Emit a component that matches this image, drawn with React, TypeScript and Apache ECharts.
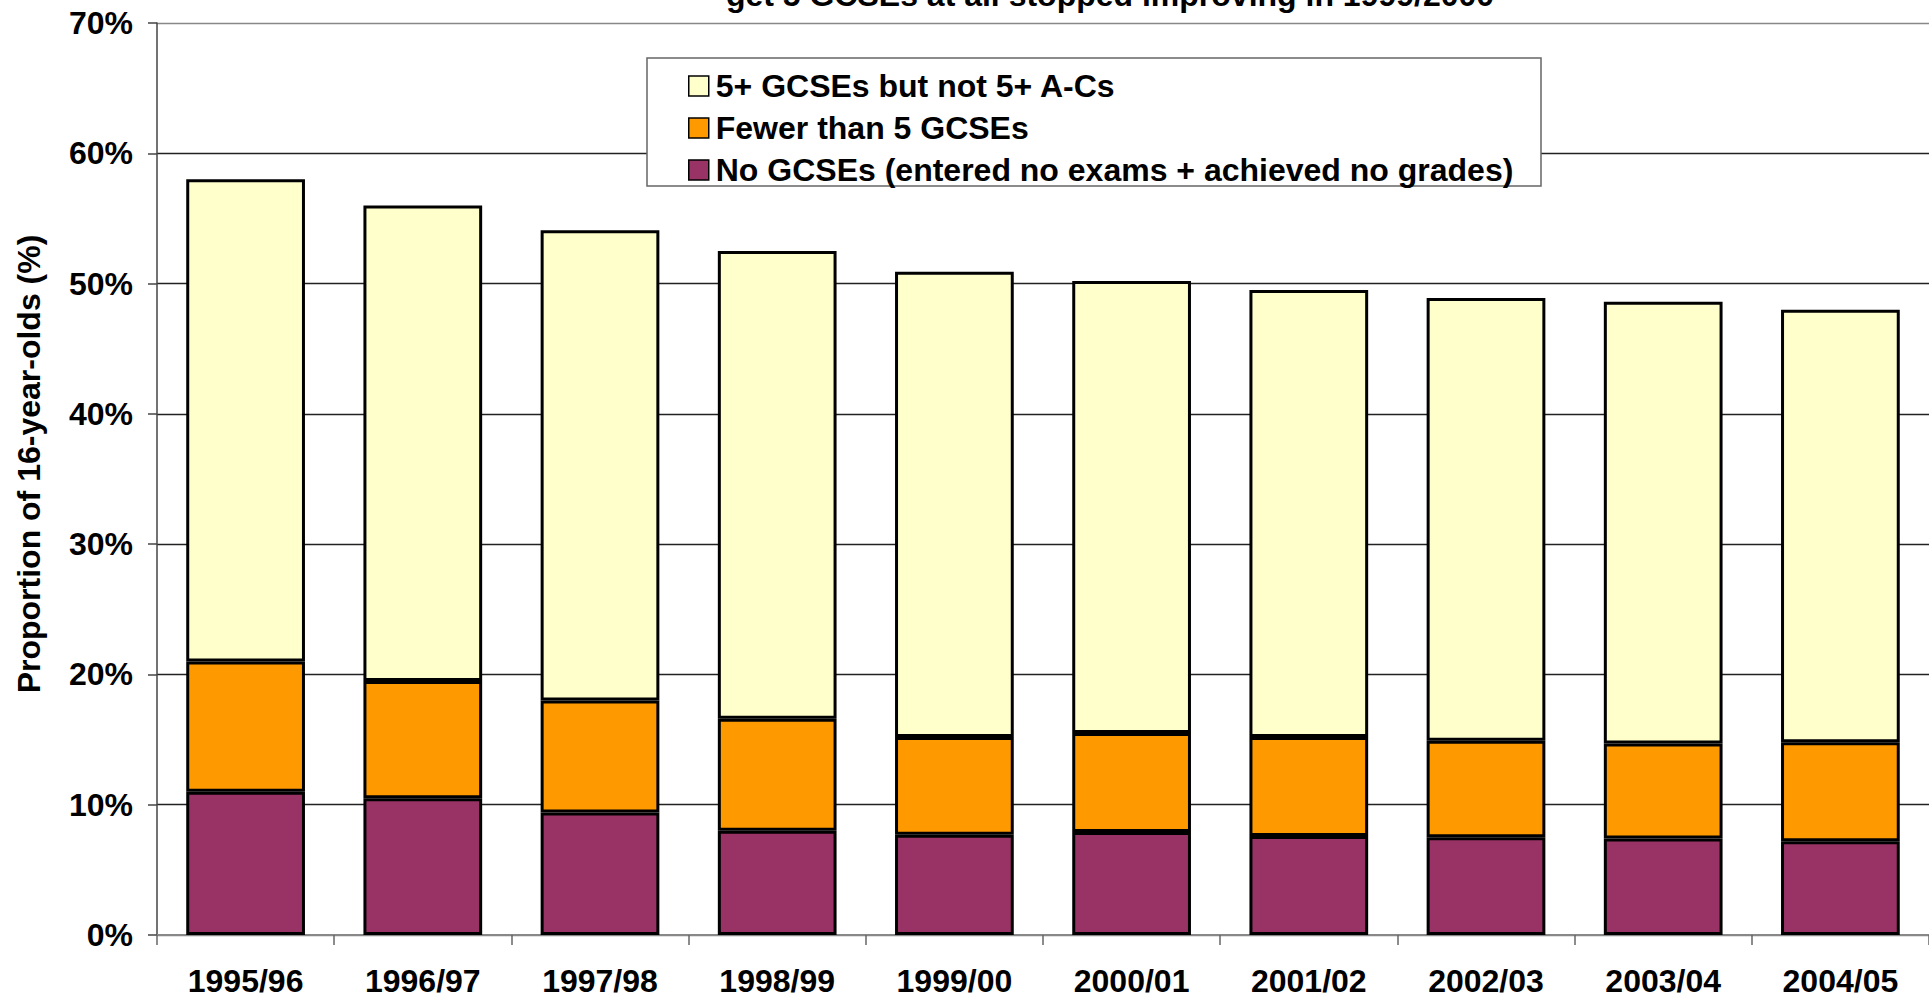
import React, { useEffect, useRef } from "react";
import * as echarts from "echarts";

const categories = ["1995/96", "1996/97", "1997/98", "1998/99", "1999/00", "2000/01", "2001/02", "2002/03", "2003/04", "2004/05"];
const noGcses = [11.0, 10.5, 9.4, 8.0, 7.7, 7.9, 7.6, 7.5, 7.4, 7.2];
const fewerThan5 = [10.0, 9.0, 8.6, 8.6, 7.5, 7.6, 7.6, 7.4, 7.3, 7.6];
const fivePlusNotAC = [37.0, 36.5, 36.1, 35.9, 35.7, 34.7, 34.3, 34.0, 33.9, 33.2];
const seriesNames = ["5+ GCSEs but not 5+ A-Cs", "Fewer than 5 GCSEs", "No GCSEs (entered no exams + achieved no grades)"];
const titleText = "get 5 GCSEs at all stopped improving in 1999/2000";
const yAxisTitle = "Proportion of 16-year-olds (%)";

const FONT = '"Liberation Sans", Arial, sans-serif';

export default function App() {
  const ref = useRef<HTMLDivElement>(null);
  useEffect(() => {
    if (!ref.current) return;
    const chart = echarts.init(ref.current, undefined, { renderer: "svg" });
    const barStyle = (color: string) => ({ color, borderColor: "#000", borderWidth: 3 });
    chart.setOption({
      animation: false,
      backgroundColor: "#fff",
      textStyle: { fontFamily: FONT },
      grid: { left: 157, right: 0, top: 23, bottom: 63, containLabel: false },
      legend: {
        data: seriesNames,
        orient: "vertical",
        left: 683,
        top: 65,
        itemWidth: 20,
        itemHeight: 20,
        itemGap: 10,
        icon: "rect",
        z: 6,
        textStyle: { fontFamily: FONT, fontWeight: "bold", fontSize: 32, color: "#000", lineHeight: 32, padding: [0, 0, 0, 2] },
        itemStyle: { borderColor: "#000", borderWidth: 1.5 },
      },
      xAxis: {
        type: "category",
        data: categories,
        axisLine: { show: true, lineStyle: { color: "#888", width: 2 } },
        axisTick: { show: true, length: 10, lineStyle: { color: "#666", width: 1.5 } },
        axisLabel: { fontFamily: FONT, fontWeight: "bold", fontSize: 32, color: "#000", margin: 30 },
      },
      yAxis: {
        type: "value",
        min: 0,
        max: 70,
        interval: 10,
        axisLine: { show: true, lineStyle: { color: "#444", width: 1.5 } },
        axisTick: { show: true, length: 9, lineStyle: { color: "#444", width: 1.5 } },
        axisLabel: { formatter: "{value}%", fontFamily: FONT, fontWeight: "bold", fontSize: 32, color: "#000", margin: 24 },
        splitLine: { show: true, lineStyle: { color: ["#888", "#222", "#222", "#222", "#222", "#222", "#222", "#888"], width: 1.4 } },
      },
      graphic: [
        {
          type: "rect",
          z: 3,
          shape: { x: 647, y: 58, width: 894, height: 128 },
          style: { fill: "#fff", stroke: "#666", lineWidth: 1.5 },
        },
        {
          type: "text",
          x: 1110,
          y: -5,
          z: 5,
          style: { text: titleText, fill: "#000", font: `bold 32px ${FONT}`, textAlign: "center", textVerticalAlign: "middle" },
        },
        {
          type: "text",
          x: 29,
          y: 464,
          rotation: Math.PI / 2,
          z: 5,
          style: { text: yAxisTitle, fill: "#000", font: `bold 32px ${FONT}`, textAlign: "center", textVerticalAlign: "middle" },
        },
      ],
      series: [
        { name: seriesNames[2], type: "bar", stack: "total", data: noGcses, barCategoryGap: "33%", itemStyle: barStyle("#993366") },
        { name: seriesNames[1], type: "bar", stack: "total", data: fewerThan5, barCategoryGap: "33%", itemStyle: barStyle("#FF9900") },
        { name: seriesNames[0], type: "bar", stack: "total", data: fivePlusNotAC, barCategoryGap: "33%", itemStyle: barStyle("#FFFFCC") },
      ],
    });
    return () => chart.dispose();
  }, []);
  return <div ref={ref} style={{ position: "fixed", left: 0, top: 0, width: 1929, height: 998 }} />;
}
